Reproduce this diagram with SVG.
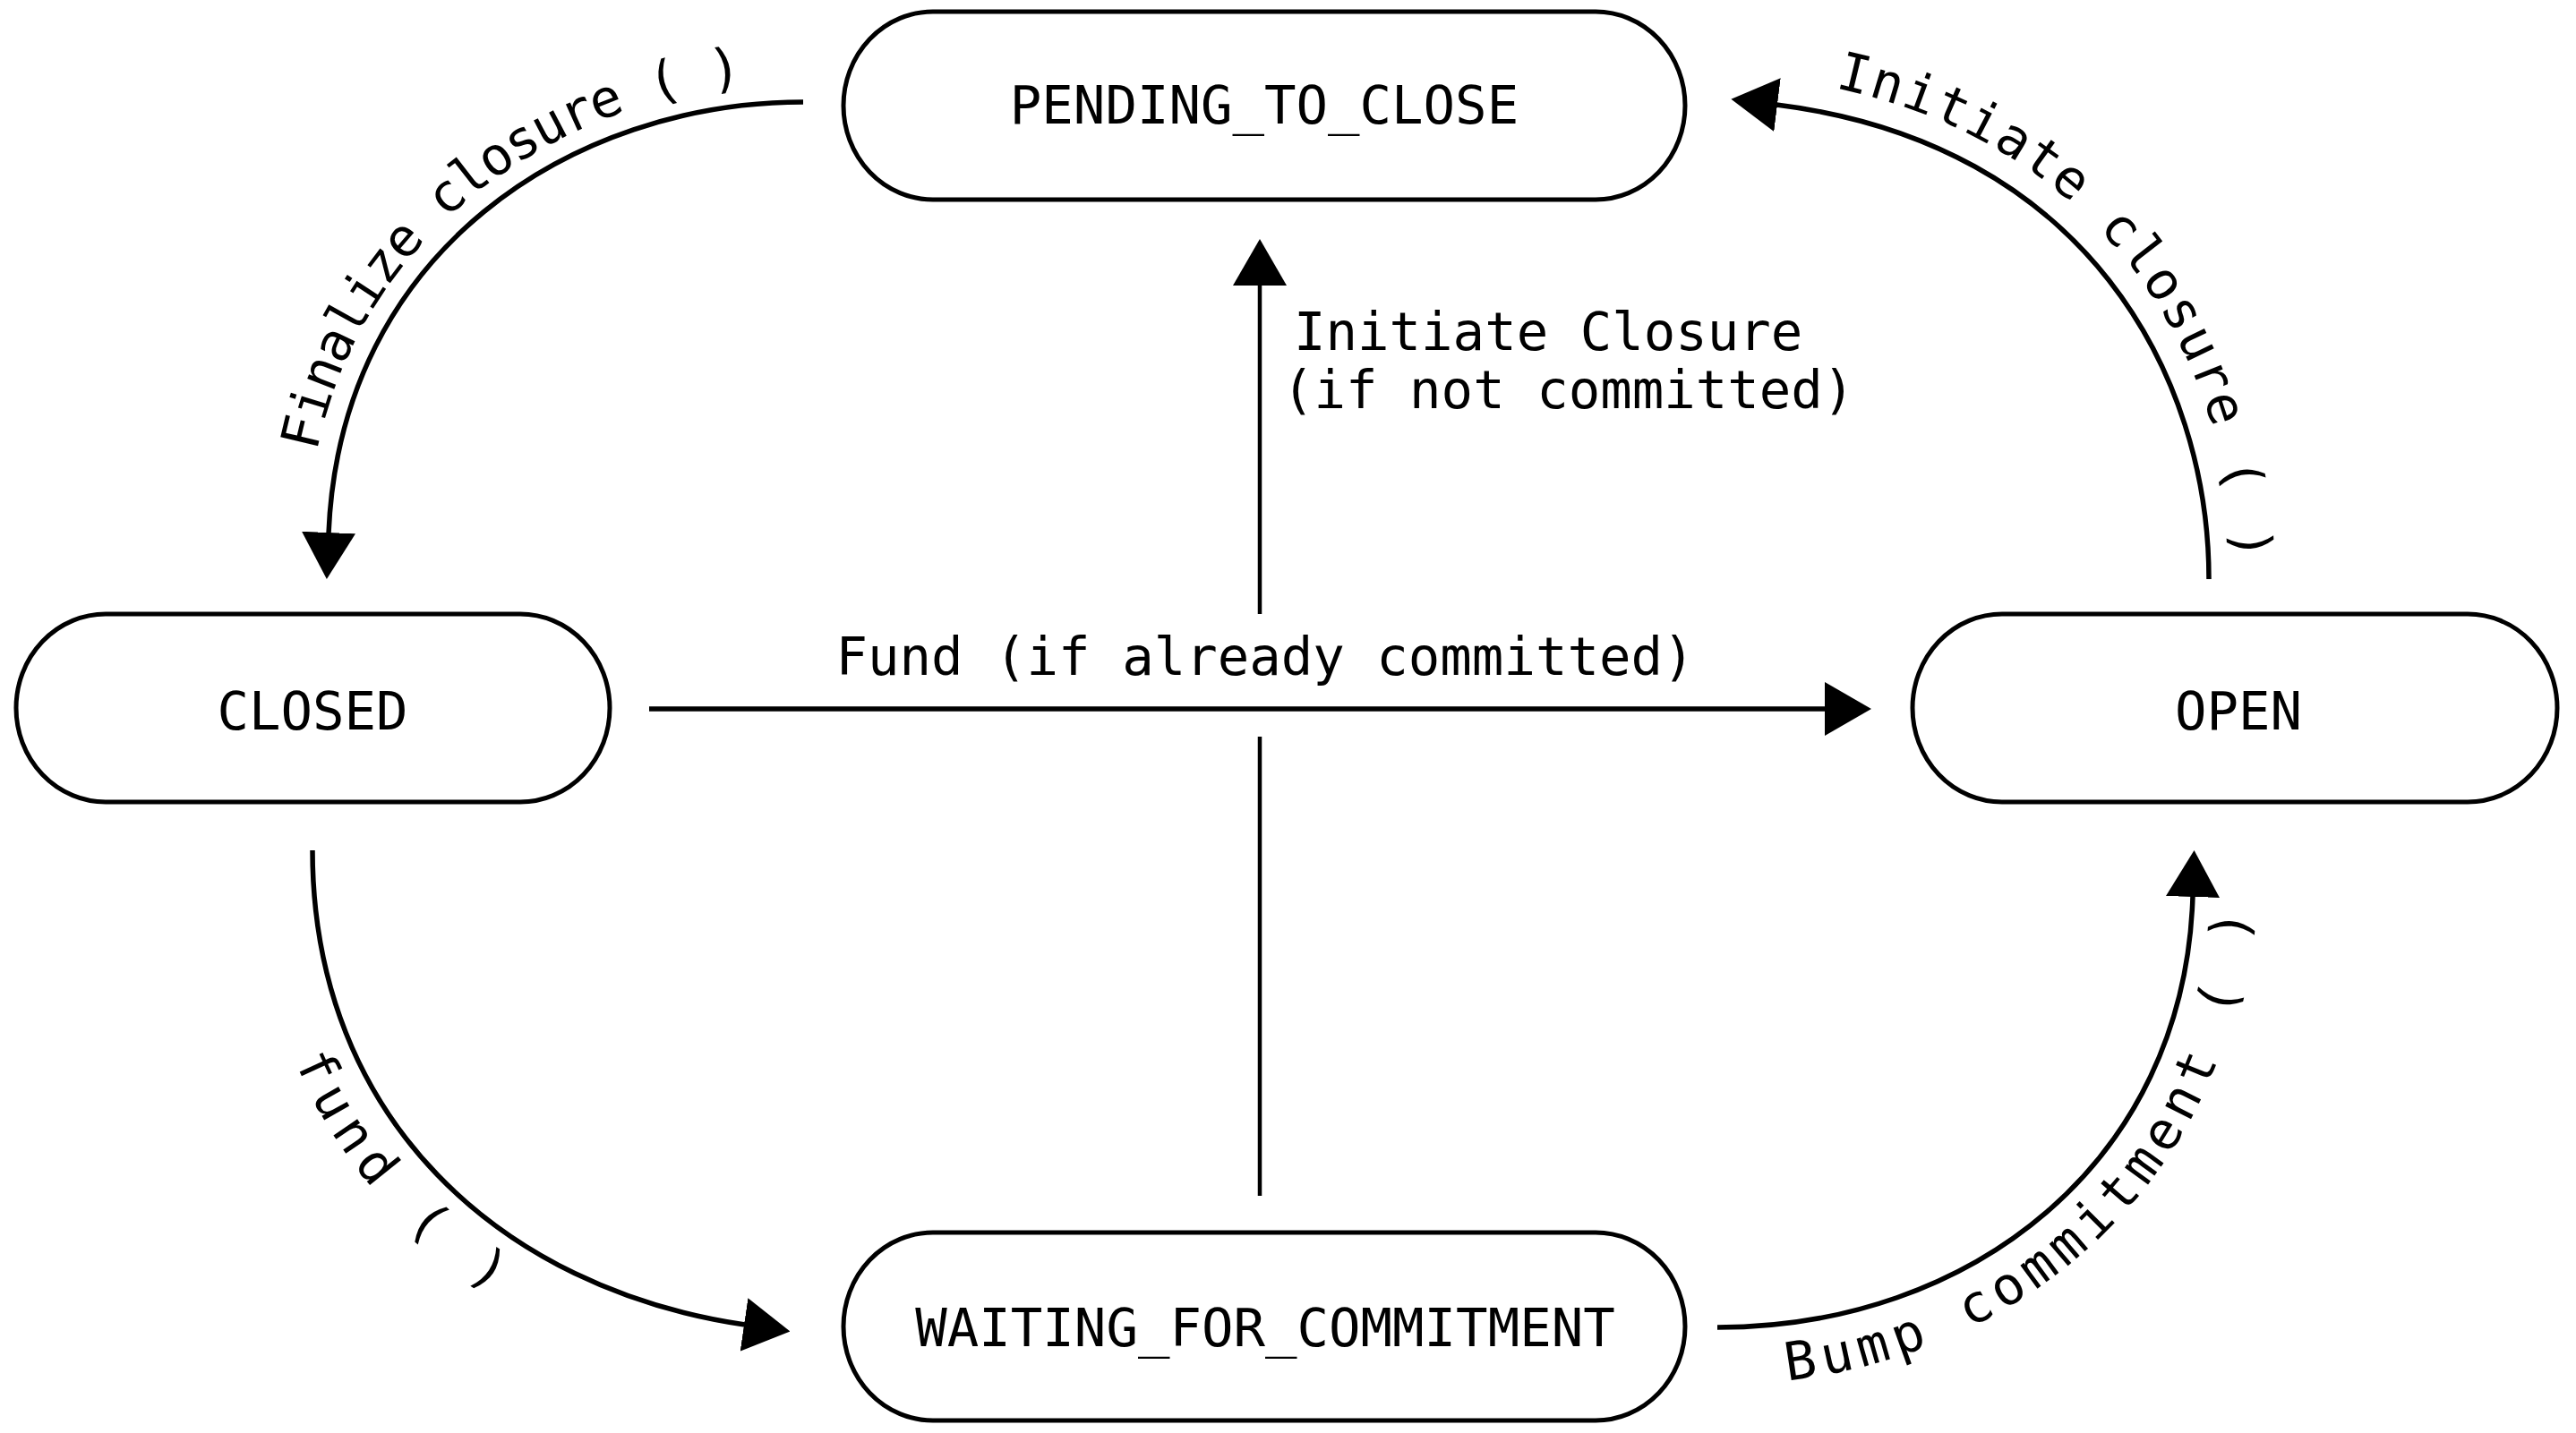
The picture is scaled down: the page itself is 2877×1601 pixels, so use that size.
<svg xmlns="http://www.w3.org/2000/svg" width="2877" height="1601" viewBox="0 0 2877 1601">
<style>
.node{fill:#fff;stroke:#000;stroke-width:5}
.lbl{font-family:"DejaVu Sans Mono","Liberation Mono",monospace;font-size:59px;fill:#000}
.edge{fill:none;stroke:#000;stroke-width:5.5}
</style>
<defs>
<marker id="arr" markerUnits="userSpaceOnUse" markerWidth="52" markerHeight="60" refX="1" refY="30" orient="auto" viewBox="0 0 52 60">
<path d="M0,0 L52,30 L0,60 z" fill="#000"/>
</marker>
<path id="lp-finalize" d="M343,596 C355,268 636,90 897,90"/>
<path id="lp-initiate" d="M1988,88 C2352,134 2496,410 2496,647"/>
<path id="lp-fund" d="M285,950 C285,1292 528,1497 823,1544"/>
<path id="lp-bump" d="M1918,1547 C2232,1547 2502,1330 2513,1001"/>
</defs>
<rect width="2877" height="1601" fill="#fff"/>
<g id="connectors">
<path class="edge" d="M897,114 C640,114 380,280 367,596" marker-end="url(#arr)"/>
<path class="edge" d="M2467,647 C2467,420 2330,160 1984,117" marker-end="url(#arr)"/>
<path class="edge" d="M1407,686 L1407,318" marker-end="url(#arr)" style="stroke-width:4.5"/>
<path class="edge" d="M1407,823 L1407,1336" style="stroke-width:4.5"/>
<path class="edge" d="M725,792 L2039,792" marker-end="url(#arr)"/>
<path class="edge" d="M349,950 C349,1250 560,1440 832,1480" marker-end="url(#arr)"/>
<path class="edge" d="M1918,1483 C2200,1483 2440,1300 2449,1001" marker-end="url(#arr)"/>
<text class="lbl" letter-spacing="-2"><textPath href="#lp-finalize" startOffset="92">Finalize closure ( )</textPath></text>
<text class="lbl" letter-spacing="2"><textPath href="#lp-initiate" startOffset="62">Initiate closure ( )</textPath></text>
<text class="lbl" letter-spacing="9"><textPath href="#lp-fund" startOffset="240">fund ( )</textPath></text>
<text class="lbl" letter-spacing="7"><textPath href="#lp-bump" startOffset="78">Bump commitment ( )</textPath></text>
<text class="lbl" x="1445" y="391">Initiate Closure</text>
<text class="lbl" x="1432" y="456">(if not committed)</text>
<text class="lbl" x="1413" y="754" text-anchor="middle">Fund (if already committed)</text>
</g>
<g id="node-pending">
<rect class="node" x="942" y="13" width="940" height="210" rx="100" ry="105"/>
<text class="lbl" x="1412" y="138" text-anchor="middle">PENDING_TO_CLOSE</text>
</g>
<g id="node-closed">
<rect class="node" x="18" y="686" width="663" height="210" rx="100" ry="105"/>
<text class="lbl" x="349" y="815" text-anchor="middle">CLOSED</text>
</g>
<g id="node-open">
<rect class="node" x="2136" y="686" width="720" height="210" rx="100" ry="105"/>
<text class="lbl" x="2500" y="815" text-anchor="middle">OPEN</text>
</g>
<g id="node-waiting">
<rect class="node" x="942" y="1377" width="940" height="210" rx="100" ry="105"/>
<text class="lbl" x="1413" y="1504" text-anchor="middle">WAITING_FOR_COMMITMENT</text>
</g>
</svg>
